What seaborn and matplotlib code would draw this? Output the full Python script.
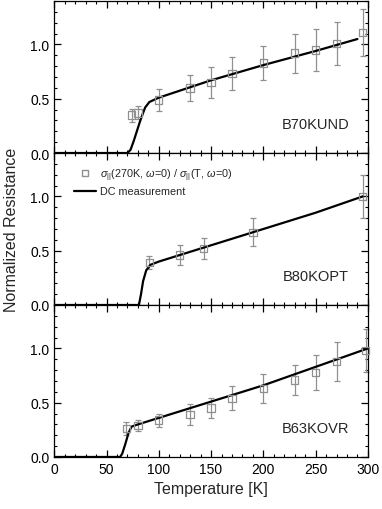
import numpy as np
import pandas as pd
import matplotlib
matplotlib.use("Agg")
import matplotlib.pyplot as plt
import seaborn as sns
from matplotlib.ticker import MultipleLocator
from matplotlib.lines import Line2D

sns.set_theme(style="ticks")
plt.rcParams['font.family'] = ['Liberation Sans', 'DejaVu Sans']
plt.rcParams['mathtext.fontset'] = 'custom'
plt.rcParams['mathtext.it'] = 'Liberation Sans:italic'
plt.rcParams['mathtext.rm'] = 'Liberation Sans'

labels = ["B70KUND", "B80KOPT", "B63KOVR"]

# optical ratio points
t_und = [74, 80, 100, 130, 150, 170, 200, 230, 250, 270, 295]
r_und = [0.35, 0.37, 0.49, 0.60, 0.65, 0.73, 0.83, 0.92, 0.95, 1.01, 1.11]
e_und = [0.06, 0.06, 0.10, 0.12, 0.14, 0.15, 0.16, 0.18, 0.19, 0.20, 0.22]

t_opt = [91, 120, 143, 190, 295]
r_opt = [0.39, 0.46, 0.52, 0.67, 1.00]
e_opt = [0.06, 0.09, 0.10, 0.13, 0.20]

t_ovr = [69, 80, 100, 130, 150, 170, 200, 230, 250, 270, 298]
r_ovr = [0.26, 0.29, 0.34, 0.39, 0.45, 0.54, 0.63, 0.71, 0.78, 0.88, 0.98]
e_ovr = [0.06, 0.05, 0.06, 0.10, 0.09, 0.11, 0.13, 0.14, 0.16, 0.18, 0.20]

# DC measurement curves
dc_t_und = [0, 70, 73, 76, 79, 82, 85, 87, 91, 100, 150, 200, 250, 290]
dc_r_und = [0, 0, 0.03, 0.11, 0.20, 0.29, 0.37, 0.42, 0.47, 0.51, 0.67, 0.81, 0.94, 1.05]

dc_t_opt = [0, 81, 83, 85, 88, 92, 100, 110, 150, 200, 250, 295]
dc_r_opt = [0, 0, 0.10, 0.22, 0.32, 0.37, 0.40, 0.43, 0.55, 0.70, 0.85, 1.00]

dc_t_ovr = [0, 63, 65, 68, 71, 74, 80, 100, 150, 200, 250, 300]
dc_r_ovr = [0, 0, 0.03, 0.12, 0.22, 0.28, 0.30, 0.36, 0.51, 0.66, 0.83, 1.00]

points = [(t_und, r_und, e_und), (t_opt, r_opt, e_opt), (t_ovr, r_ovr, e_ovr)]
curves = [(dc_t_und, dc_r_und), (dc_t_opt, dc_r_opt), (dc_t_ovr, dc_r_ovr)]

fig, axes = plt.subplots(3, 1, figsize=(3.82, 5.10), dpi=100, sharex=True)
fig.subplots_adjust(left=0.142, right=0.963, bottom=0.102, top=0.996, hspace=0)

gray = "#909090"
for ax, lab, (pt, pr, pe), (ct, cr) in zip(axes, labels, points, curves):
    dfc = pd.DataFrame({"T": ct, "R": cr})
    sns.lineplot(data=dfc, x="T", y="R", ax=ax, color="black", lw=1.6, zorder=3)
    eb = ax.errorbar(pt, pr, yerr=pe, fmt="none", ecolor=gray, elinewidth=0.9,
                     capsize=2.5, capthick=0.9, zorder=2)
    for art in eb.lines[1] + eb.lines[2]:
        art.set_clip_on(False)
    dfp = pd.DataFrame({"T": pt, "R": pr})
    sns.scatterplot(data=dfp, x="T", y="R", ax=ax, marker="s", s=28,
                    facecolor="none", edgecolor=gray, linewidth=0.9, zorder=4)
    for coll in ax.collections:
        coll.set_clip_on(False)
    ax.set_xlim(0, 300)
    ax.set_ylim(0, 1.4)
    ax.xaxis.set_major_locator(MultipleLocator(50))
    ax.xaxis.set_minor_locator(MultipleLocator(10))
    ax.yaxis.set_major_locator(MultipleLocator(0.5))
    ax.yaxis.set_minor_locator(MultipleLocator(0.1))
    ax.tick_params(which="both", direction="in", top=True, right=True,
                   labelsize=10, colors="black")
    ax.tick_params(which="major", length=5, width=0.9)
    ax.tick_params(which="minor", length=2.5, width=0.8)
    ax.set_yticks([0.0, 0.5, 1.0])
    ax.set_yticklabels(["0.0", "0.5", "1.0"])
    for s in ax.spines.values():
        s.set_linewidth(0.9)
        s.set_color("black")
    ax.set_xlabel("")
    ax.set_ylabel("")
    ax.text(282, 0.27, lab, ha="right", va="center", fontsize=10.5)

axes[2].set_xticks([0, 50, 100, 150, 200, 250, 300])
axes[2].set_xlabel("Temperature [K]", fontsize=11.5)
fig.text(0.03, 0.55, "Normalized Resistance", rotation=90, ha="center", va="center", fontsize=11.5)

handles = [
    Line2D([], [], marker="s", linestyle="none", markerfacecolor="none",
           markeredgecolor=gray, markersize=4.5),
    Line2D([], [], color="black", lw=1.6),
]
leg_labels = [r"$\sigma_{||}$(270K, $\omega$=0) / $\sigma_{||}$(T, $\omega$=0)", "DC measurement"]
axes[1].legend(handles, leg_labels, loc="upper left", bbox_to_anchor=(0.04, 0.96),
               frameon=False, fontsize=7.8, handlelength=2.0, handletextpad=0.4,
               labelspacing=0.3, borderpad=0.2)

fig.savefig("out.png", dpi=100)
